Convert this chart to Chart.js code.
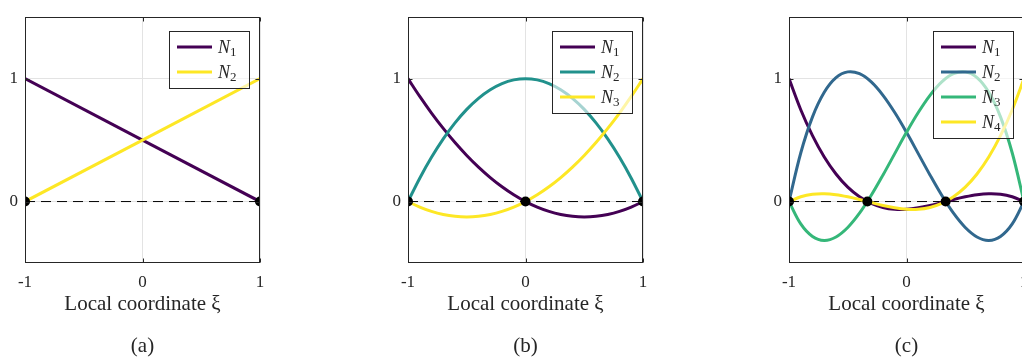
<!DOCTYPE html>
<html>
<head>
<meta charset="utf-8">
<title>Lagrange shape functions</title>
<style>
  html, body { margin: 0; padding: 0; background: #fff; overflow: hidden; }
  body { position: relative; width: 1022px; height: 363px; }
  canvas { position: absolute; top: 0; }
</style>
</head>
<body>
<canvas id="chartA" width="280" height="363" style="left:0px"></canvas>
<canvas id="chartB" width="280" height="363" style="left:383px"></canvas>
<canvas id="chartC" width="280" height="363" style="left:764px"></canvas>
<script src="https://cdn.jsdelivr.net/npm/chart.js@4.4.6/dist/chart.umd.min.js"></script>
<script>
const SERIF = "'Liberation Serif', 'DejaVu Serif', serif"
const INK = "#262626"

// linear element (2 nodes)
const xLinear = [-1, 1]
const linearN1 = [1, 0]
const linearN2 = [0, 1]
const linearNodes = [-1, 1]

// sample positions for the quadratic and cubic curves
const xSample = [-1, -0.9, -0.8, -0.7, -0.6, -0.5, -0.4, -0.3, -0.2, -0.1, 0,
                 0.1, 0.2, 0.3, 0.4, 0.5, 0.6, 0.7, 0.8, 0.9, 1]

// quadratic element (3 nodes)
const quadN1 = [1, 0.855, 0.72, 0.595, 0.48, 0.375, 0.28, 0.195, 0.12, 0.055, 0,
                -0.045, -0.08, -0.105, -0.12, -0.125, -0.12, -0.105, -0.08, -0.045, 0]
const quadN2 = [0, 0.19, 0.36, 0.51, 0.64, 0.75, 0.84, 0.91, 0.96, 0.99, 1,
                0.99, 0.96, 0.91, 0.84, 0.75, 0.64, 0.51, 0.36, 0.19, 0]
const quadN3 = [0, -0.045, -0.08, -0.105, -0.12, -0.125, -0.12, -0.105, -0.08, -0.045, 0,
                0.055, 0.12, 0.195, 0.28, 0.375, 0.48, 0.595, 0.72, 0.855, 1]
const quadNodes = [-1, 0, 1]

// cubic element (4 nodes)
const cubicN1 = [1, 0.747, 0.536, 0.362, 0.224, 0.117, 0.039, -0.015, -0.048, -0.063, -0.063,
                 -0.051, -0.032, -0.008, 0.017, 0.039, 0.056, 0.064, 0.060, 0.039, 0]
const cubicN2 = [0, 0.395, 0.689, 0.889, 1.008, 1.055, 1.040, 0.973, 0.864, 0.724, 0.563,
                 0.390, 0.216, 0.051, -0.095, -0.211, -0.288, -0.316, -0.284, -0.182, 0]
const cubicN3 = [0, -0.182, -0.284, -0.316, -0.288, -0.211, -0.095, 0.051, 0.216, 0.390, 0.563,
                 0.724, 0.864, 0.973, 1.040, 1.055, 1.008, 0.889, 0.689, 0.395, 0]
const cubicN4 = [0, 0.039, 0.060, 0.064, 0.056, 0.039, 0.017, -0.008, -0.032, -0.051, -0.063,
                 -0.063, -0.048, -0.015, 0.039, 0.117, 0.224, 0.362, 0.536, 0.747, 1]
const cubicNodes = [-1, -0.333, 0.333, 1]

const seriesNames = ["N1", "N2", "N3", "N4"]
const linearColors = ["#440154", "#fde725"]
const quadColors = ["#440154", "#21918c", "#fde725"]
const cubicColors = ["#440154", "#31688e", "#35b779", "#fde725"]
const panelLabels = ["(a)", "(b)", "(c)"]
const xTicks = [-1, 0, 1]
const yTicks = [0, 1]
const zeroLine = [0, 0]
const axisTitle = "Local coordinate ξ"

// box around the axes, inward tick marks and a boxed legend in the top right corner
const frameAndLegend = {
    id: "frameAndLegend",
    afterDatasetsDraw(chart) {
        const { ctx, chartArea: a, scales } = chart
        const l = Math.round(a.left) + 0.5
        const r = Math.round(a.right) - 0.5
        const t = Math.round(a.top) + 0.5
        const b = Math.round(a.bottom) - 0.5
        ctx.save()
        ctx.strokeStyle = INK
        ctx.lineWidth = 1
        ctx.strokeRect(l, t, r - l, b - t)
        ctx.beginPath()
        yTicks.forEach(v => {
            const py = Math.round(scales.y.getPixelForValue(v)) + 0.5
            ctx.moveTo(l, py); ctx.lineTo(l + 4, py)
            ctx.moveTo(r, py); ctx.lineTo(r - 4, py)
        })
        xTicks.forEach(v => {
            const px = Math.round(scales.x.getPixelForValue(v)) + 0.5
            ctx.moveTo(px, b); ctx.lineTo(px, b - 4)
            ctx.moveTo(px, t); ctx.lineTo(px, t + 4)
        })
        ctx.stroke()

        const items = chart.data.datasets.filter(d => d.label)
        const w = 80, rowH = 25
        const h = 32 + rowH * (items.length - 1)
        const x0 = Math.round(a.right) - 11 - w
        const y0 = Math.round(a.top) + 14
        ctx.fillStyle = "rgba(255, 255, 255, 0.6)"
        ctx.fillRect(x0, y0, w, h)
        ctx.strokeRect(x0 + 0.5, y0 + 0.5, w, h)
        items.forEach((d, i) => {
            const cy = y0 + 16 + rowH * i
            ctx.strokeStyle = d.borderColor
            ctx.lineWidth = 3
            ctx.beginPath()
            ctx.moveTo(x0 + 8, cy)
            ctx.lineTo(x0 + 43, cy)
            ctx.stroke()
            ctx.fillStyle = INK
            ctx.textBaseline = "alphabetic"
            ctx.textAlign = "left"
            ctx.font = "italic 18px " + SERIF
            ctx.fillText(d.label[0], x0 + 49, cy + 6)
            const nw = ctx.measureText(d.label[0]).width
            ctx.font = "13px " + SERIF
            ctx.fillText(d.label.slice(1), x0 + 49 + nw, cy + 9)
        })
        ctx.restore()
    },
}

function newPanel(elementId, xs, curves, colors, nodes, label) {
    const datasets = [{
        data: xLinear.map((x, j) => ({ x, y: zeroLine[j] })),
        borderColor: "#000",
        borderWidth: 1,
        borderDash: [10, 6],
        pointRadius: 0,
        showLine: true,
        order: curves.length + 1,
    }]
    curves.forEach((ys, i) => {
        datasets.push({
            label: seriesNames[i],
            data: xs.map((x, j) => ({ x, y: ys[j] })),
            borderColor: colors[i],
            borderWidth: 3,
            pointRadius: 0,
            showLine: true,
            tension: 0.35,
            clip: 0,
            order: curves.length - i,
        })
    })
    datasets.push({
        data: nodes.map(x => ({ x, y: 0 })),
        pointRadius: 5,
        pointBackgroundColor: "#000",
        pointBorderWidth: 0,
        showLine: false,
        clip: 0,
        order: 0,
    })

    const tickFont = { family: SERIF, size: 17 }
    const config = {
        type: "scatter",
        data: { datasets },
        options: {
            responsive: false,
            animation: false,
            layout: { padding: { top: 9, right: 20, bottom: 0, left: 0 } },
            plugins: {
                legend: { display: false },
                tooltip: { enabled: false },
                title: {
                    display: true,
                    position: "bottom",
                    fullSize: false,
                    text: label,
                    color: INK,
                    font: { family: SERIF, size: 21, weight: "normal", lineHeight: 1 },
                    padding: { top: 4, bottom: 6 },
                },
            },
            scales: {
                x: {
                    type: "linear",
                    min: -1,
                    max: 1,
                    afterBuildTicks: s => { s.ticks = xTicks.map(v => ({ value: v })) },
                    afterFit: s => { s.height = 69 },
                    grid: { color: "#e3e3e3", drawTicks: false },
                    border: { display: false },
                    ticks: { color: INK, font: tickFont, padding: 9, maxRotation: 0 },
                    title: {
                        display: true,
                        text: axisTitle,
                        color: INK,
                        font: { family: SERIF, size: 21, lineHeight: 1 },
                        padding: { top: 0, bottom: 17 },
                    },
                },
                y: {
                    type: "linear",
                    min: -0.5,
                    max: 1.5,
                    afterBuildTicks: s => { s.ticks = yTicks.map(v => ({ value: v })) },
                    afterFit: s => { s.width = 25 },
                    grid: { color: "#e3e3e3", drawTicks: false },
                    border: { display: false },
                    ticks: { color: INK, font: tickFont, padding: 7 },
                },
            },
        },
        plugins: [frameAndLegend],
    }
    return new Chart(document.getElementById(elementId), config)
}

newPanel("chartA", xLinear, [linearN1, linearN2], linearColors, linearNodes, panelLabels[0])
newPanel("chartB", xSample, [quadN1, quadN2, quadN3], quadColors, quadNodes, panelLabels[1])
newPanel("chartC", xSample, [cubicN1, cubicN2, cubicN3, cubicN4], cubicColors, cubicNodes, panelLabels[2])
</script>
</body>
</html>
